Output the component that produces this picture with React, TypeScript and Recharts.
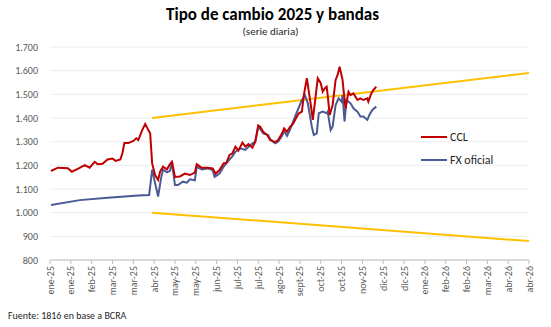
import { CartesianGrid, Line, LineChart, XAxis, YAxis } from "recharts";

// eje X: días desde el 1-ene-2025, una marca cada 21 días
const etiquetasX = [
  "ene-25", "ene-25", "feb-25", "mar-25", "mar-25", "abr-25", "may-25", "may-25",
  "jun-25", "jul-25", "jul-25", "ago-25", "sept-25", "oct-25", "oct-25", "nov-25",
  "dic-25", "dic-25", "ene-26", "feb-26", "feb-26", "mar-26", "abr-26", "abr-26",
];
const ticksX = etiquetasX.map((_, i) => i * 21);
const ticksY = [800, 900, 1000, 1100, 1200, 1300, 1400, 1500, 1600, 1700];

const diasCCL = [
  1, 8, 18, 22, 28, 35, 40, 45, 48, 53, 58, 63, 66, 71, 73, 75, 79, 84, 87, 89,
  93, 96, 99, 101, 103, 106, 109, 111, 114, 118, 121, 123, 126, 131, 136, 141, 146, 148, 153, 159,
  164, 167, 171, 175, 178, 181, 184, 187, 190, 194, 197, 200, 204, 207, 210, 212, 215, 219, 222, 227,
  230, 234, 236, 239, 242, 245, 249, 251, 254, 256, 259, 261, 263, 265, 267, 270, 273, 275, 277, 279,
  280, 282, 285, 288, 290, 292, 295, 296, 298, 301, 303, 306, 310, 313, 316, 320, 321, 324, 326, 329,
];
const valoresCCL = [
  1176, 1190, 1188, 1173, 1185, 1201, 1190, 1215, 1205, 1207, 1225, 1229, 1219, 1225, 1251, 1294, 1294, 1303, 1314, 1307,
  1349, 1375, 1350, 1335, 1208, 1159, 1138, 1173, 1194, 1183, 1205, 1215, 1151, 1153, 1165, 1159, 1169, 1205, 1190, 1190,
  1187, 1165, 1180, 1208, 1211, 1244, 1251, 1279, 1262, 1296, 1279, 1290, 1275, 1300, 1368, 1363, 1342, 1328, 1307, 1298,
  1307, 1335, 1356, 1342, 1363, 1375, 1406, 1420, 1427, 1498, 1568, 1511, 1455, 1392, 1462, 1568, 1547, 1511, 1525, 1532,
  1497, 1413, 1455, 1561, 1582, 1617, 1561, 1518, 1441, 1511, 1497, 1504, 1476, 1483, 1476, 1483, 1469, 1504, 1518, 1532,
];

const diasFX = [
  1, 30, 58, 89, 100, 103, 106, 109, 112, 114, 118, 121, 123, 126, 129, 134, 138, 141, 146, 148,
  153, 159, 164, 166, 171, 175, 179, 184, 187, 192, 197, 202, 207, 210, 215, 220, 222, 227, 230, 234,
  236, 239, 242, 247, 254, 257, 260, 264, 266, 269, 271, 275, 279, 280, 283, 285, 288, 291, 294, 295,
  297, 299, 303, 306, 310, 313, 316, 320, 322, 325, 329,
];
const valoresFX = [
  1032, 1053, 1063, 1073, 1075, 1182, 1124, 1068, 1146, 1182, 1170, 1177, 1211, 1117, 1117, 1131, 1127, 1141, 1137, 1194,
  1183, 1187, 1180, 1151, 1165, 1194, 1215, 1239, 1258, 1272, 1265, 1286, 1300, 1365, 1335, 1328, 1310, 1293, 1300, 1325,
  1345, 1324, 1350, 1405, 1476, 1497, 1462, 1363, 1328, 1335, 1420, 1427, 1420, 1427, 1349, 1363, 1455, 1483, 1469, 1497,
  1385, 1476, 1462, 1441, 1427, 1406, 1406, 1392, 1413, 1434, 1448,
];

const diasBandas = [103, 483];
const bandaSuperior = [1400, 1590];
const bandaInferior = [1000, 880];

const ccl = diasCCL.map((d, i) => ({ dia: d, valor: valoresCCL[i] }));
const fx = diasFX.map((d, i) => ({ dia: d, valor: valoresFX[i] }));
const sup = diasBandas.map((d, i) => ({ dia: d, valor: bandaSuperior[i] }));
const inf = diasBandas.map((d, i) => ({ dia: d, valor: bandaInferior[i] }));

const fuente = "Calibri, Carlito, Lato, sans-serif";
const series = [
  { nombre: "CCL", color: "#C00000" },
  { nombre: "FX oficial", color: "#4A5A96" },
];

function TickX({ x, y, payload }: any) {
  const etiqueta = etiquetasX[Math.round(payload.value / 21)];
  return (
    <text
      x={x}
      y={y}
      transform={`rotate(-90 ${x} ${y})`}
      textAnchor="end"
      dominantBaseline="central"
      fontSize={10}
      fill="#595959"
      fontFamily={fuente}
    >
      {etiqueta}
    </text>
  );
}

export default function App() {
  return (
    <div style={{ position: "absolute", left: 0, top: 0, width: 551, height: 327, background: "#fff", fontFamily: fuente }}>
      <div style={{ position: "absolute", left: 0, width: 545, top: 4, textAlign: "center", fontSize: 17, fontWeight: 700, color: "#000" }}>
        Tipo de cambio 2025 y bandas
      </div>
      <div style={{ position: "absolute", left: 0, width: 541, top: 25, textAlign: "center", fontSize: 11, color: "#262626" }}>
        (serie diaria)
      </div>
      <LineChart width={551} height={327} margin={{ top: 47, right: 22, bottom: 0, left: 0 }}>
        <CartesianGrid vertical={false} stroke="#ececec" />
        <XAxis
          dataKey="dia"
          type="number"
          domain={[0, 483]}
          ticks={ticksX}
          interval={0}
          height={67}
          tick={<TickX />}
          tickSize={4}
          tickMargin={2}
          stroke="#bfbfbf"
          allowDataOverflow
        />
        <YAxis
          type="number"
          domain={[800, 1700]}
          ticks={ticksY}
          width={50}
          axisLine={false}
          tickLine={false}
          tickMargin={6}
          tick={{ fontSize: 10, fill: "#595959", fontFamily: fuente }}
          tickFormatter={(v) => v.toLocaleString("es-AR")}
        />
        <Line data={sup} dataKey="valor" stroke="#FFC000" strokeWidth={2} dot={false} isAnimationActive={false} />
        <Line data={inf} dataKey="valor" stroke="#FFC000" strokeWidth={2} dot={false} isAnimationActive={false} />
        <Line data={fx} dataKey="valor" name="FX oficial" stroke="#4A5A96" strokeWidth={2} dot={false} isAnimationActive={false} />
        <Line data={ccl} dataKey="valor" name="CCL" stroke="#C00000" strokeWidth={2} dot={false} isAnimationActive={false} />
      </LineChart>
      <div style={{ position: "absolute", left: 421, top: 125 }}>
        {series.map((f) => (
          <div key={f.nombre} style={{ display: "flex", alignItems: "center", height: 23 }}>
            <div style={{ width: 26, height: 2, background: f.color, marginRight: 3 }} />
            <span style={{ fontSize: 12, color: "#262626" }}>{f.nombre}</span>
          </div>
        ))}
      </div>
      <div style={{ position: "absolute", left: 8, top: 309, fontSize: 10, color: "#262626" }}>
        Fuente: 1816 en base a BCRA
      </div>
    </div>
  );
}
